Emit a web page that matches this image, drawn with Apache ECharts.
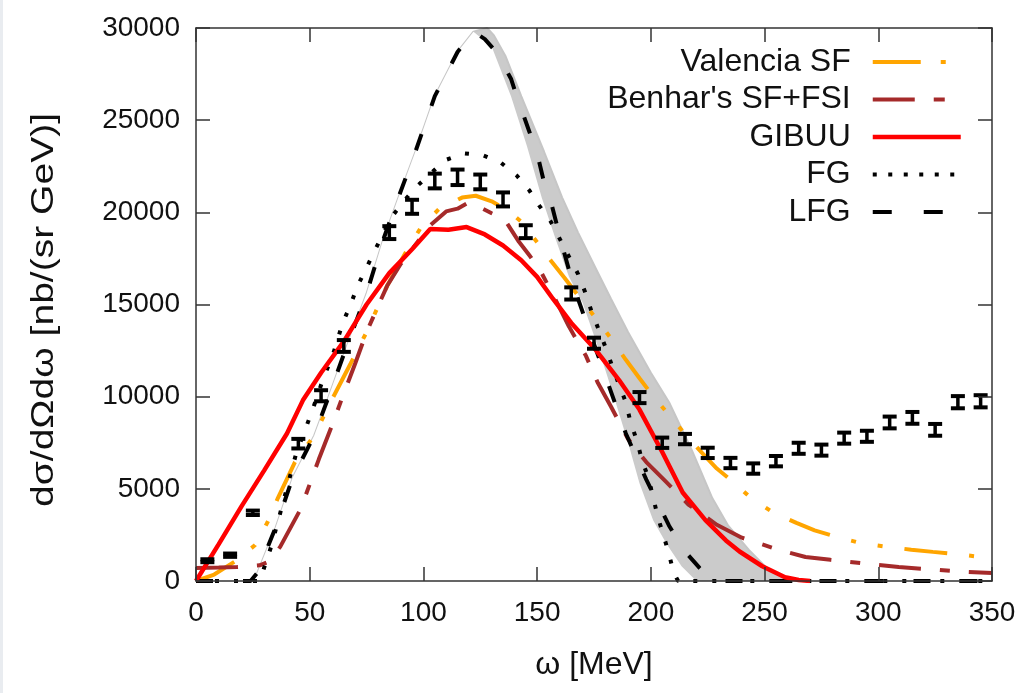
<!DOCTYPE html>
<html>
<head>
<meta charset="utf-8">
<script src="https://cdn.jsdelivr.net/npm/echarts@6/dist/echarts.min.js"></script>
<style>
html, body { margin: 0; padding: 0; background: #fff; }
#chart { width: 1030px; height: 693px; }
#edge { position: absolute; left: 0; top: 0; width: 3px; height: 693px; background: #e9ecf0; }
</style>
</head>
<body>
<div id="chart"></div>
<div id="edge"></div>
<script>
// experimental points: omega [MeV], cross section, error
var expOmega = [5, 15, 25, 45, 55, 65, 85, 95, 105, 115, 125, 135, 145, 165, 175, 195, 205, 215, 225, 235, 245, 255, 265, 275, 285, 295, 305, 315, 325, 335, 345];
var expValue = [1100, 1400, 3700, 7450, 10050, 12750, 18900, 20300, 21700, 21900, 21650, 20700, 18950, 15600, 12900, 9950, 7500, 7700, 6950, 6400, 6100, 6500, 7200, 7100, 7750, 7850, 8600, 8850, 8200, 9700, 9750];
var expError = [80, 90, 120, 260, 300, 320, 350, 380, 400, 420, 400, 380, 350, 330, 300, 300, 280, 280, 280, 280, 280, 280, 300, 300, 300, 300, 320, 320, 320, 330, 330];

var valenciaSF = [[0, 0], [8, 350], [17, 1050], [26, 1950], [31.5, 3200], [36, 4500], [43.5, 6450], [52, 7900], [60, 9900], [68, 11800], [75, 13500], [84, 16000], [93, 18000], [99, 19200], [107, 20200], [117, 20800], [123, 20900], [130, 20600], [137, 20100], [143, 19500], [150.5, 18300], [156.5, 17300], [162, 16450], [168.5, 15400], [175.5, 14300], [182.5, 13150], [189, 12000], [195, 11000], [200.5, 10100], [207, 9150], [214.5, 8050], [222.5, 6950], [229, 6100], [236, 5400], [244, 4500], [254, 3700], [264, 3150], [272, 2750], [281.5, 2400], [292.5, 2050], [304, 1850], [314.5, 1700], [324, 1580], [334, 1470], [345, 1300], [350, 1250]];

var benharSF = [[0, 700], [10, 730], [18, 760], [28, 850], [32, 1050], [37, 1850], [46, 3900], [50, 5250], [54, 6600], [60, 8500], [64, 9850], [70, 11800], [75, 13500], [80, 14900], [84, 16000], [90, 17200], [95, 18000], [103, 19300], [110, 20050], [115, 20200], [120, 20550], [126, 20200], [130, 19950], [135.5, 19650], [142, 18400], [147, 17600], [152, 16700], [157.5, 15400], [164, 13800], [171.5, 12200], [176.5, 10800], [182.5, 9450], [190, 7700], [198, 6450], [206.5, 5400], [216.5, 4150], [229, 3050], [240, 2350], [256, 1700], [268, 1300], [279, 1150], [298, 900], [309, 760], [321, 650], [338, 500], [350, 430]];

var gibuu = [[0, 0], [10, 2000], [20, 4050], [30, 6000], [40, 8000], [47, 9800], [55, 11300], [65, 13000], [75, 15000], [85, 16700], [95, 18000], [103, 19100], [111, 19050], [119, 19200], [127, 18800], [135, 18200], [143, 17400], [150, 16500], [157, 15300], [165, 14000], [176, 12500], [186, 10900], [195, 9300], [205, 7000], [214, 4800], [224, 3300], [233, 2200], [239, 1600], [249, 800], [259, 200], [265, 50], [270, 0]];

var fg = [[0, 0], [28, 0], [33, 1850], [37.5, 3900], [44, 6900], [51, 9200], [56, 11000], [60, 12200], [64.5, 14000], [68, 15000], [71, 16000], [75, 17000], [78.5, 17900], [86, 19750], [92, 20700], [97, 21400], [104, 22200], [110, 22850], [118, 23200], [126, 23100], [134, 22700], [141, 22000], [146.5, 21200], [151, 20350], [156, 19500], [160, 18550], [164, 17600], [168, 16650], [171, 15700], [174, 14600], [177, 13650], [180, 12700], [183, 11650], [186, 10650], [189, 9700], [191, 8650], [194, 7550], [196, 6600], [199, 5550], [201, 4550], [203, 3500], [205.5, 2500], [208, 1450], [210, 450], [212, 0], [350, 0]];

var lfg = [[0, 0], [24, 0], [27, 450], [35, 2900], [42.5, 5600], [52, 7900], [58, 9900], [65, 12300], [75, 15600], [82, 18400], [89, 20800], [96.5, 23300], [105, 26300], [115, 28700], [122, 29800], [127, 29400], [132, 28700], [138.5, 27250], [141, 26300], [146.5, 24400], [150, 23200], [153, 21650], [156, 20600], [161, 18200], [166, 16000], [172, 13900], [181.5, 10600], [189, 8000], [198, 5500], [208, 3000], [215, 1600], [221.5, 700], [226, 150], [230, 0], [350, 0]];

// grey uncertainty band: outer and inner edges
var bandOuter = [[24, 0], [27, 450], [35, 2900], [42.5, 5600], [52, 7900], [58, 9900], [65, 12300], [75, 15600], [82, 18400], [89, 20800], [96.5, 23300], [105, 26300], [115, 28700], [122, 29800], [128, 30000], [131, 29600], [136, 28500], [143, 26300], [153, 23300], [161, 20800], [168, 18900], [176, 16900], [182.5, 15300], [190, 13500], [200, 11300], [208, 9700], [218, 7100], [227, 4500], [234, 3000], [243, 1700], [251, 700], [259, 100], [262, 0]];
var bandInner = [[24, 0], [27, 450], [35, 2900], [42.5, 5600], [52, 7900], [58, 9900], [65, 12300], [75, 15600], [82, 18400], [89, 20800], [96.5, 23300], [105, 26300], [115, 28700], [122, 29800], [130, 29000], [138.5, 26300], [145.5, 23600], [152, 20800], [158, 18600], [164, 16500], [170, 15100], [177, 12600], [184, 9900], [190, 7500], [195, 5300], [201, 3300], [207, 2000], [213.5, 800], [220, 0]];

var xTicks = { min: 0, max: 350, interval: 50 };
var yTicks = { min: 0, max: 30000, interval: 5000 };

var chart = echarts.init(document.getElementById('chart'), null, { renderer: 'canvas' });

var font = "'Liberation Sans', Arial, Helvetica, sans-serif";

function frame(showLabel, labelMargin) {
    return {
        z: 10,
        axisLine: { onZero: false, lineStyle: { color: '#333', width: 1.5 } },
        axisTick: { show: true, inside: true, length: 14, lineStyle: { color: '#333', width: 1.5 } },
        splitLine: { show: false },
        axisLabel: {
            show: showLabel,
            fontFamily: font, fontSize: 28, color: '#111', margin: labelMargin,
            formatter: function (v) { return String(v); }
        }
    };
}

var expData = expOmega.map(function (w, i) {
    return [w, expValue[i], expError[i]];
});

function curve(name, data, color, width, dash, z) {
    return {
        name: name,
        type: 'line',
        data: data,
        symbol: 'none',
        z: z || 3,
        silent: true,
        lineStyle: { color: color, width: width, type: dash, cap: 'butt' }
    };
}

var option = {
    animation: false,
    backgroundColor: '#fff',
    grid: { left: 196, right: 38, top: 28, bottom: 112, containLabel: false },
    legend: {
        orient: 'vertical',
        align: 'right',
        right: 62,
        top: 40,
        itemWidth: 88,
        itemHeight: 14,
        itemGap: 3.5,
        selectedMode: false,
        itemStyle: { opacity: 0 },
        lineStyle: { width: 4 },
        textStyle: { fontFamily: font, fontSize: 32, color: '#111', lineHeight: 34, padding: [0, 17, 0, 0] },
        data: [
            { name: 'Valencia SF', lineStyle: { width: 4, type: [48, 20, 5, 30] } },
            { name: "Benhar's SF+FSI", lineStyle: { width: 4, type: [42, 19, 11, 30] } },
            { name: 'GIBUU', lineStyle: { width: 4.5 } },
            { name: 'FG', lineStyle: { width: 4, type: [4, 11.5] } },
            { name: 'LFG', lineStyle: { width: 4, type: [19, 32] } }
        ]
    },
    xAxis: [
        Object.assign({
            type: 'value', position: 'bottom',
            min: xTicks.min, max: xTicks.max, interval: xTicks.interval,
            name: 'ω [MeV]',
            nameLocation: 'middle',
            nameGap: 68,
            nameTextStyle: { fontFamily: font, fontSize: 32, color: '#111' }
        }, frame(true, 18)),
        Object.assign({
            type: 'value', position: 'top',
            min: xTicks.min, max: xTicks.max, interval: xTicks.interval
        }, frame(false, 8))
    ],
    yAxis: [
        Object.assign({
            type: 'value', position: 'left',
            min: yTicks.min, max: yTicks.max, interval: yTicks.interval
        }, frame(true, 16)),
        Object.assign({
            type: 'value', position: 'right',
            min: yTicks.min, max: yTicks.max, interval: yTicks.interval
        }, frame(false, 8))
    ],
    graphic: [{
        type: 'text',
        x: 44,
        y: 310,
        rotation: Math.PI / 2,
        scaleX: 1.22,
        style: {
            text: 'dσ/dΩdω [nb/(sr GeV)]',
            font: "32px 'Liberation Sans', Arial, sans-serif",
            fill: '#111',
            align: 'center',
            verticalAlign: 'middle'
        }
    }],
    series: [
        {
            name: 'band',
            type: 'line',
            data: bandOuter,
            symbol: 'none',
            z: 1,
            silent: true,
            lineStyle: { color: '#c6c6c6', width: 2 },
            areaStyle: { color: '#cbcbcb', opacity: 1 }
        },
        {
            name: 'bandMask',
            type: 'line',
            data: bandInner,
            symbol: 'none',
            z: 2,
            silent: true,
            lineStyle: { width: 0 },
            areaStyle: { color: '#ffffff', opacity: 1 }
        },
        curve('Valencia SF', valenciaSF, '#ffa500', 4, [43, 22, 5, 22, 5, 22]),
        curve("Benhar's SF+FSI", benharSF, '#a52a2a', 4, [42, 19, 10, 19]),
        curve('FG', fg, '#000', 4, [4, 15]),
        curve('LFG', lfg, '#000', 4, [17, 30]),
        curve('GIBUU', gibuu, '#ff0000', 4.5, 'solid', 4),
        {
            name: 'data',
            type: 'custom',
            z: 5,
            silent: true,
            data: expData,
            renderItem: function (params, api) {
                var x = api.value(0), y = api.value(1), e = api.value(2);
                var hi = api.coord([x, y + e]);
                var lo = api.coord([x, y - e]);
                var hw = 7;
                var bar = { stroke: '#000', lineWidth: 3.5 };
                var cap = { stroke: '#000', lineWidth: 4 };
                return {
                    type: 'group',
                    children: [
                        { type: 'line', shape: { x1: hi[0], y1: hi[1], x2: lo[0], y2: lo[1] }, style: bar },
                        { type: 'line', shape: { x1: hi[0] - hw, y1: hi[1], x2: hi[0] + hw, y2: hi[1] }, style: cap },
                        { type: 'line', shape: { x1: lo[0] - hw, y1: lo[1], x2: lo[0] + hw, y2: lo[1] }, style: cap }
                    ]
                };
            }
        }
    ]
};

chart.setOption(option);
</script>
</body>
</html>
